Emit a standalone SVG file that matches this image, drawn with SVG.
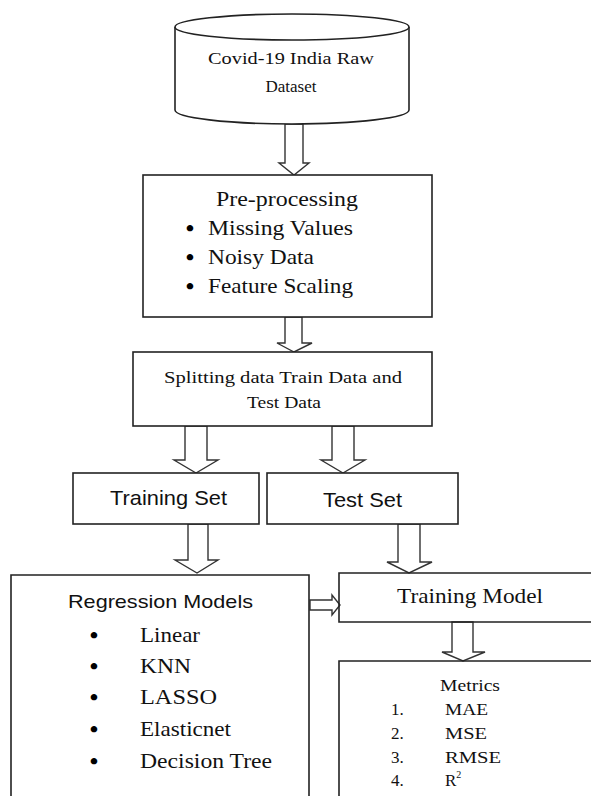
<svg xmlns="http://www.w3.org/2000/svg" width="591" height="796" viewBox="0 0 591 796">
<style>
.box{fill:#fff;stroke:#222;stroke-width:1.6}
.open{fill:none;stroke:#222;stroke-width:1.6}
.arr{fill:#fff;stroke:#333;stroke-width:1.4;stroke-linejoin:miter}
.serif{font-family:"Liberation Serif","Times New Roman",serif;fill:#111}
.sans{font-family:"Liberation Sans",Arial,sans-serif;fill:#111}
.bul{font-family:"Liberation Serif","Times New Roman",serif;fill:#000;font-size:24px;font-weight:bold;text-anchor:middle}
</style>
<rect width="591" height="796" fill="#fff"/>
<g id="connectors">
<polygon class="arr" points="285,124 303,124 303,163 309,163 294,175 279,163 285,163"/>
<polygon class="arr" points="285,317 302,317 302,343 312,343 294,352 277,343 285,343"/>
<polygon class="arr" points="185,426 207,426 207,460 218,460 196,473 174,460 185,460"/>
<polygon class="arr" points="332,426 354,426 354,460 365,460 343,473 321,460 332,460"/>
<polygon class="arr" points="188,524 208,524 208,560 218,560 197,573 175,560 188,560"/>
<polygon class="arr" points="398,524 420,524 420,562 432,562 409,573 387,562 398,562"/>
<polygon class="arr" points="452,622 473,622 473,652 485,652 463,661 442,652 452,652"/>
<polygon class="arr" points="310,600 332,600 332,595 340,605 332,615 332,610 310,610"/>
</g>
<g id="dataset">
<path class="box" d="M175,27 L175,110 A117,14 0 0 0 409,110 L409,27"/>
<ellipse class="box" cx="292" cy="27" rx="117" ry="13"/>
<text class="serif" x="208" y="64" font-size="17" textLength="166" lengthAdjust="spacingAndGlyphs">Covid-19  India Raw</text>
<text class="serif" x="291" y="92" font-size="17" text-anchor="middle">Dataset</text>
</g>
<g id="preprocessing">
<rect class="box" x="143" y="175" width="289" height="142"/>
<text class="serif" x="216" y="206" font-size="22" textLength="142" lengthAdjust="spacingAndGlyphs">Pre-processing</text>
<text class="bul" x="190" y="236">•</text>
<text class="serif" x="208" y="235" font-size="22" textLength="145" lengthAdjust="spacingAndGlyphs">Missing Values</text>
<text class="bul" x="190" y="265">•</text>
<text class="serif" x="208" y="264" font-size="22" textLength="106" lengthAdjust="spacingAndGlyphs">Noisy Data</text>
<text class="bul" x="190" y="294">•</text>
<text class="serif" x="208" y="293" font-size="22" textLength="145" lengthAdjust="spacingAndGlyphs">Feature Scaling</text>
</g>
<g id="splitting">
<rect class="box" x="133" y="352" width="299" height="74"/>
<text class="serif" x="164" y="383" font-size="16" textLength="238" lengthAdjust="spacingAndGlyphs">Splitting data Train Data and</text>
<text class="serif" x="247" y="408" font-size="16" textLength="74" lengthAdjust="spacingAndGlyphs">Test Data</text>
</g>
<g id="training-set">
<rect class="box" x="73" y="473" width="186" height="51"/>
<text class="sans" x="110" y="505" font-size="21" textLength="117" lengthAdjust="spacingAndGlyphs">Training Set</text>
</g>
<g id="test-set">
<rect class="box" x="267" y="473" width="191" height="51"/>
<text class="sans" x="323" y="507" font-size="21" textLength="79" lengthAdjust="spacingAndGlyphs">Test Set</text>
</g>
<g id="regression-models">
<path class="open" d="M11,800 L11,575 L309,575 L309,800"/>
<text class="sans" x="68" y="608" font-size="19" textLength="185" lengthAdjust="spacingAndGlyphs">Regression Models</text>
<text class="bul" x="94" y="643">•</text>
<text class="serif" x="140" y="642" font-size="21" textLength="60" lengthAdjust="spacingAndGlyphs">Linear</text>
<text class="bul" x="94" y="674">•</text>
<text class="serif" x="140" y="673" font-size="21" textLength="51" lengthAdjust="spacingAndGlyphs">KNN</text>
<text class="bul" x="94" y="705">•</text>
<text class="serif" x="140" y="704" font-size="21" textLength="77" lengthAdjust="spacingAndGlyphs">LASSO</text>
<text class="bul" x="94" y="737">•</text>
<text class="serif" x="140" y="736" font-size="21" textLength="91" lengthAdjust="spacingAndGlyphs">Elasticnet</text>
<text class="bul" x="94" y="769">•</text>
<text class="serif" x="140" y="768" font-size="21" textLength="132" lengthAdjust="spacingAndGlyphs">Decision Tree</text>
</g>
<g id="training-model">
<path class="open" d="M600,573 L339,573 L339,622 L600,622"/>
<text class="serif" x="397" y="603" font-size="22" textLength="146" lengthAdjust="spacingAndGlyphs">Training Model</text>
</g>
<g id="metrics">
<path class="open" d="M600,661 L339,661 L339,800"/>
<text class="serif" x="440" y="691" font-size="17" textLength="60" lengthAdjust="spacingAndGlyphs">Metrics</text>
<text class="serif" x="391" y="715" font-size="17">1.</text>
<text class="serif" x="445" y="715" font-size="17" textLength="43" lengthAdjust="spacingAndGlyphs">MAE</text>
<text class="serif" x="391" y="739" font-size="17">2.</text>
<text class="serif" x="445" y="739" font-size="17" textLength="42" lengthAdjust="spacingAndGlyphs">MSE</text>
<text class="serif" x="391" y="763" font-size="17">3.</text>
<text class="serif" x="445" y="763" font-size="17" textLength="56" lengthAdjust="spacingAndGlyphs">RMSE</text>
<text class="serif" x="391" y="786" font-size="17">4.</text>
<text class="serif" x="445" y="786" font-size="17">R<tspan font-size="10" dy="-8">2</tspan></text>
</g>
</svg>
